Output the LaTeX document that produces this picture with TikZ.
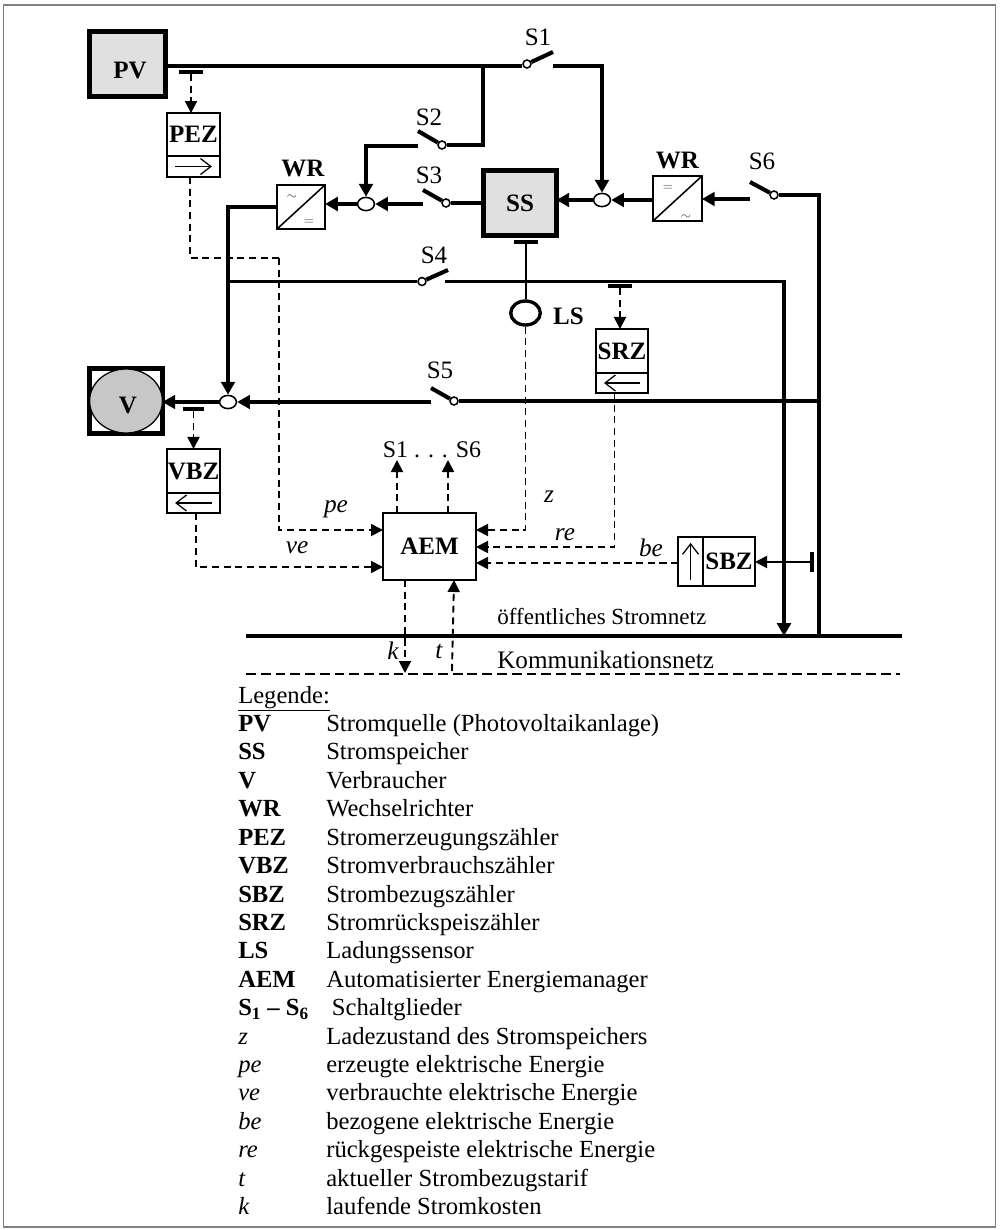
\documentclass[tikz,border=0pt]{standalone}
\usepackage{fontspec}
\setmainfont{Liberation Serif}
\usepackage{tikz}
\usetikzlibrary{arrows.meta,positioning,shapes.geometric}

\begin{document}
\begin{tikzpicture}[
    x=0.025cm, y=-0.025cm,
    lbl/.style={font=\fontsize{17.8}{20}\selectfont, inner sep=0pt},
    bold/.style={lbl, font=\fontsize{17.8}{20}\selectfont\bfseries},
    sig/.style={lbl, font=\fontsize{18}{20}\selectfont\itshape},
    box/.style={draw, line width=1.1pt, inner sep=0pt, outer sep=0pt, font=\fontsize{17.8}{20}\selectfont\bfseries, align=center},
    store/.style={box, line width=3pt, fill=black!12},
    wire/.style={line width=2.4pt},
    arrow/.style={wire, -{Triangle[length=3.2mm, width=3.4mm]}},
    dasharrow/.style={line width=1.3pt, dash pattern=on 5pt off 3.3pt, -{Triangle[length=3mm, width=3mm]}},
    meterarrow/.style={line width=0.9pt, -{Straight Barb[length=2.6mm, width=4mm]}, shorten <=0.2cm, shorten >=0.2cm},
    pole/.style={circle, draw, line width=1.1pt, fill=white, minimum size=0.2cm, inner sep=0pt},
    blade/.style={line width=2.9pt},
    junction/.style={ellipse, draw, line width=1.1pt, fill=white, minimum width=0.42cm, minimum height=0.33cm, inner sep=0pt},
    tee/.style={fill=black, inner sep=0pt, minimum width=0.6cm, minimum height=0.09cm}
]
    % frame
    \node[draw=black!50, line width=1pt, minimum width=24.78cm, minimum height=30.55cm, inner sep=0pt] (frame) at (499.5,616) {};
    \useasboundingbox (0,0) rectangle (1000,1230);

    % sources and storage
    \node[store, minimum width=1.9cm, minimum height=1.62cm] (pv) at (127.5,64) {};
    \node[bold] (pvtext) at (130,70) {PV};
    \node[store, minimum width=1.82cm, minimum height=1.62cm] (ss) at (520,203) {SS};
    \node[box, line width=3pt, minimum width=1.82cm, minimum height=1.62cm] (v) at (126,401) {};
    \node[ellipse, draw, line width=0.9pt, fill=black!22, minimum width=1.82cm, minimum height=1.6cm, inner sep=0pt] (vcircle) at (126,401) {};
    \node[bold] (vtext) at (128,405) {V};

    % inverters
    \node[box, minimum width=1.2cm, minimum height=1.1cm] (wrl) at (301,207) {};
    \node[bold, above=0.2cm of wrl, xshift=0.05cm] (wrltext) {WR};
    \draw[line width=1.1pt] (wrl.south west) -- (wrl.north east);
    \node[lbl, font=\small, black!70] (wrlac) at (292,197) {$\sim$};
    \node[lbl, font=\small, black!70] (wrldc) at (309,222) {$=$};
    \node[box, minimum width=1.22cm, minimum height=1.12cm] (wrr) at (677.5,198.5) {};
    \node[bold, above=0.17cm of wrr] (wrrtext) {WR};
    \draw[line width=1.1pt] (wrr.south west) -- (wrr.north east);
    \node[lbl, font=\small, black!70] (wrrdc) at (668,188) {$=$};
    \node[lbl, font=\small, black!70] (wrrac) at (686,217) {$\sim$};

    % meters
    \node[box, minimum width=1.32cm, minimum height=1.07cm] (pez) at (193.5,134.5) {\raisebox{-2.5pt}{PEZ}};
    \node[box, minimum width=1.32cm, minimum height=0.53cm, below=0pt of pez] (pezlow) {};
    \draw[meterarrow] (pezlow.west) -- (pezlow.east);
    \node[box, minimum width=1.32cm, minimum height=1.1cm] (vbz) at (193.5,471) {\raisebox{-3pt}{VBZ}};
    \node[box, minimum width=1.32cm, minimum height=0.5cm, below=0pt of vbz] (vbzlow) {};
    \draw[meterarrow] (vbzlow.east) -- (vbzlow.west);
    \node[box, minimum width=1.3cm, minimum height=1.1cm] (srz) at (622,351) {\raisebox{-2pt}{SRZ}};
    \node[box, minimum width=1.3cm, minimum height=0.5cm, below=0pt of srz] (srzlow) {};
    \draw[meterarrow] (srzlow.east) -- (srzlow.west);
    \node[box, minimum width=1.3cm, minimum height=1.23cm] (sbz) at (729,561.5) {SBZ};
    \node[box, minimum width=0.62cm, minimum height=1.23cm, left=0pt of sbz] (sbzlow) {};
    \draw[meterarrow, shorten <=0.15cm, shorten >=0.15cm] (sbzlow.south) -- (sbzlow.north);

    \node[box, minimum width=2.33cm, minimum height=1.68cm] (aem) at (429.5,546.5) {AEM};
    \node[ellipse, draw, line width=2.4pt, fill=white, minimum width=0.74cm, minimum height=0.6cm, inner sep=0pt] (ls) at (525.5,313) {};
    \node[bold, right=0.27cm of ls, yshift=-0.08cm] (lstext) {LS};

    % junctions
    \node[junction] (jl) at (366,204) {};
    \node[junction] (jr) at (602,200) {};
    \node[junction] (jv) at (228,402) {};

    % switches
    \node[pole] (soneP) at (527,64) {};
    \coordinate (soneB) at (553,52);
    \coordinate (soneO) at (553,66);
    \node[pole] (stwoP) at (442,145) {};
    \coordinate (stwoB) at (418,131);
    \coordinate (stwoO) at (418,146);
    \node[pole] (sthreeP) at (446,203) {};
    \coordinate (sthreeB) at (423,190);
    \coordinate (sthreeO) at (423,204);
    \node[pole] (sfourP) at (422,281.5) {};
    \coordinate (sfourB) at (448,270);
    \coordinate (sfourO) at (445,281.5);
    \node[pole] (sfiveP) at (454,401) {};
    \coordinate (sfiveB) at (431,388);
    \coordinate (sfiveO) at (431,402);
    \node[pole] (ssixP) at (774,195) {};
    \coordinate (ssixB) at (750,182);
    \coordinate (ssixO) at (750,199);
    \draw[blade] (soneP) -- (soneB);
    \draw[blade] (stwoP) -- (stwoB);
    \draw[blade] (sthreeP) -- (sthreeB);
    \draw[blade] (sfourP) -- (sfourB);
    \draw[blade] (sfiveP) -- (sfiveB);
    \draw[blade] (ssixP) -- (ssixB);
    \node[lbl] (sonetext) at (538,37) {S1};
    \node[lbl] (stwotext) at (429,117) {S2};
    \node[lbl] (sthreetext) at (429,175) {S3};
    \node[lbl] (sfourtext) at (434,255) {S4};
    \node[lbl] (sfivetext) at (440,370) {S5};
    \node[lbl] (ssixtext) at (762,161) {S6};
    \node[lbl, font=\fontsize{17}{20}\selectfont] (sall) at (432,450) {S1 . . . S6};

    % networks
    \coordinate (gridl) at (246,636);
    \coordinate (gridr) at (902,636);
    \coordinate (gridin) at (784,636);
    \coordinate (gridout) at (819,636);
    \coordinate (comml) at (246,674);
    \coordinate (commr) at (900,674);
    \coordinate (commk) at (405,673);
    \coordinate (commt) at (452,671);
    \draw[line width=2.9pt] (gridl) -- (gridr);
    \draw[line width=1.2pt, dash pattern=on 7pt off 3.5pt] (comml) -- (commr);
    \node[lbl, font=\fontsize{16.4}{20}\selectfont, anchor=base west] (gridtext) at (497,624) {öffentliches Stromnetz};
    \node[lbl, font=\fontsize{17.9}{20}\selectfont, anchor=base west] (commtext) at (497,668) {Kommunikationsnetz};

    % power lines
    \coordinate (stwotap) at (483,66);
    \coordinate (sfourtap) at (228,281.5);
    \draw[wire] (pv.east |- soneP) ++(0,2) -- (soneP.west |- soneO);
    \draw[arrow] (soneO) -| (jr.north);
    \draw[wire] (stwotap) |- (stwoP.east);
    \draw[arrow] (stwoO) -| (jl.north);
    \draw[wire] (sthreeP.east) -- (sthreeP.east -| ss.west);
    \draw[arrow] (sthreeO) -- (jl.east);
    \draw[arrow] (jl.west) -- (jl.west -| wrl.east);
    \draw[arrow] (wrl.west) -| (jv.north);
    \draw[wire] (sfourtap) -- (sfourP.west);
    \draw[arrow] (sfourO) -| (gridin);
    \draw[arrow] (jr.east -| wrr.west) -- (jr.east);
    \draw[arrow] (jr.west) -- (jr.west -| ss.east);
    \draw[arrow] (ssixO) -- (ssixO -| wrr.east);
    \draw[wire] (ssixP.east) -| (gridout);
    \draw[wire] (sfiveP.east) -- (sfiveP.east -| gridout);
    \draw[arrow] (sfiveO) -- (jv.east);
    \draw[arrow] (jv.west) -- (jv.west -| v.east);

    % measuring points
    \node[tee] (peztee) at (191,72) {};
    \node[tee, minimum width=0.54cm] (vbztee) at (193.5,409) {};
    \node[tee] (srztee) at (620,286) {};
    \node[tee] (sstee) at (526,242) {};
    \node[tee, minimum width=0.09cm, minimum height=0.52cm] (sbztee) at (812,562) {};
    \draw[line width=1.3pt] (sstee) -- (ls.north -| sstee);
    \draw[line width=1.3pt, -{Triangle[length=3mm, width=3mm]}] (sbztee.west) -- (sbztee.west -| sbz.east);
    \draw[dasharrow] (peztee.south) -- (peztee.south |- pez.north);
    \draw[dasharrow] (vbztee.south) -- (vbztee.south |- vbz.north);
    \draw[dasharrow] (srztee.south) -- (srztee.south |- srz.north);

    % signal lines
    \coordinate (pecorner) at (279,258);
    \coordinate (pezout) at (190,177);
    \coordinate (vbzout) at (196,513);
    \coordinate (srzout) at (614.5,393);
    \coordinate (aempe) at (383,530);
    \coordinate (aemve) at (383,567);
    \coordinate (aemz) at (476,530);
    \coordinate (aemre) at (476,547);
    \coordinate (aembe) at (476,563);
    \coordinate (aems) at (397,460);
    \coordinate (aemsix) at (448,460);
    \draw[dasharrow, -] (pezout) |- (pecorner);
    \draw[dasharrow] (pecorner) |- (aempe);
    \draw[dasharrow] (vbzout) |- (aemve);
    \draw[dasharrow] (ls.south) |- (aemz);
    \draw[dasharrow] (srzout) |- (aemre);
    \draw[dasharrow] (sbzlow.west |- aembe) -- (aembe);
    \draw[dasharrow] (aems |- aem.north) -- (aems);
    \draw[dasharrow] (aemsix |- aem.north) -- (aemsix);
    \draw[dasharrow] (commk |- aem.south) -- (commk);
    \draw[dasharrow] (commt) -- (454,580);
    \node[sig] (petext) at (336,509) {pe};
    \node[sig] (vetext) at (297,548) {ve};
    \node[sig] (ztext) at (549,497) {z};
    \node[sig] (retext) at (565,535) {re};
    \node[sig] (betext) at (651,548) {be};
    \node[sig] (ktext) at (393,651) {k};
    \node[sig] (ttext) at (439,651) {t};

    % legend
    \node[anchor=north west, inner sep=0pt, font=\fontsize{17.5}{20.2}\selectfont] (legend) at (238,683) {%
        \begin{tabular}{@{}p{62.6pt}@{}l@{}}
            \underline{Legende:} & \\
            \textbf{PV} & Stromquelle (Photovoltaikanlage) \\
            \textbf{SS} & Stromspeicher \\
            \textbf{V} & Verbraucher \\
            \textbf{WR} & Wechselrichter \\
            \textbf{PEZ} & Stromerzeugungszähler \\
            \textbf{VBZ} & Stromverbrauchszähler \\
            \textbf{SBZ} & Strombezugszähler \\
            \textbf{SRZ} & Stromrückspeiszähler \\
            \textbf{LS} & Ladungssensor \\
            \textbf{AEM} & Automatisierter Energiemanager \\
            \textbf{S\textsubscript{1} – S\textsubscript{6}} & \hspace{4pt}Schaltglieder \\
            \textit{z} & Ladezustand des Stromspeichers \\
            \textit{pe} & erzeugte elektrische Energie \\
            \textit{ve} & verbrauchte elektrische Energie \\
            \textit{be} & bezogene elektrische Energie \\
            \textit{re} & rückgespeiste elektrische Energie \\
            \textit{t} & aktueller Strombezugstarif \\
            \textit{k} & laufende Stromkosten
        \end{tabular}};
\end{tikzpicture}
\end{document}
